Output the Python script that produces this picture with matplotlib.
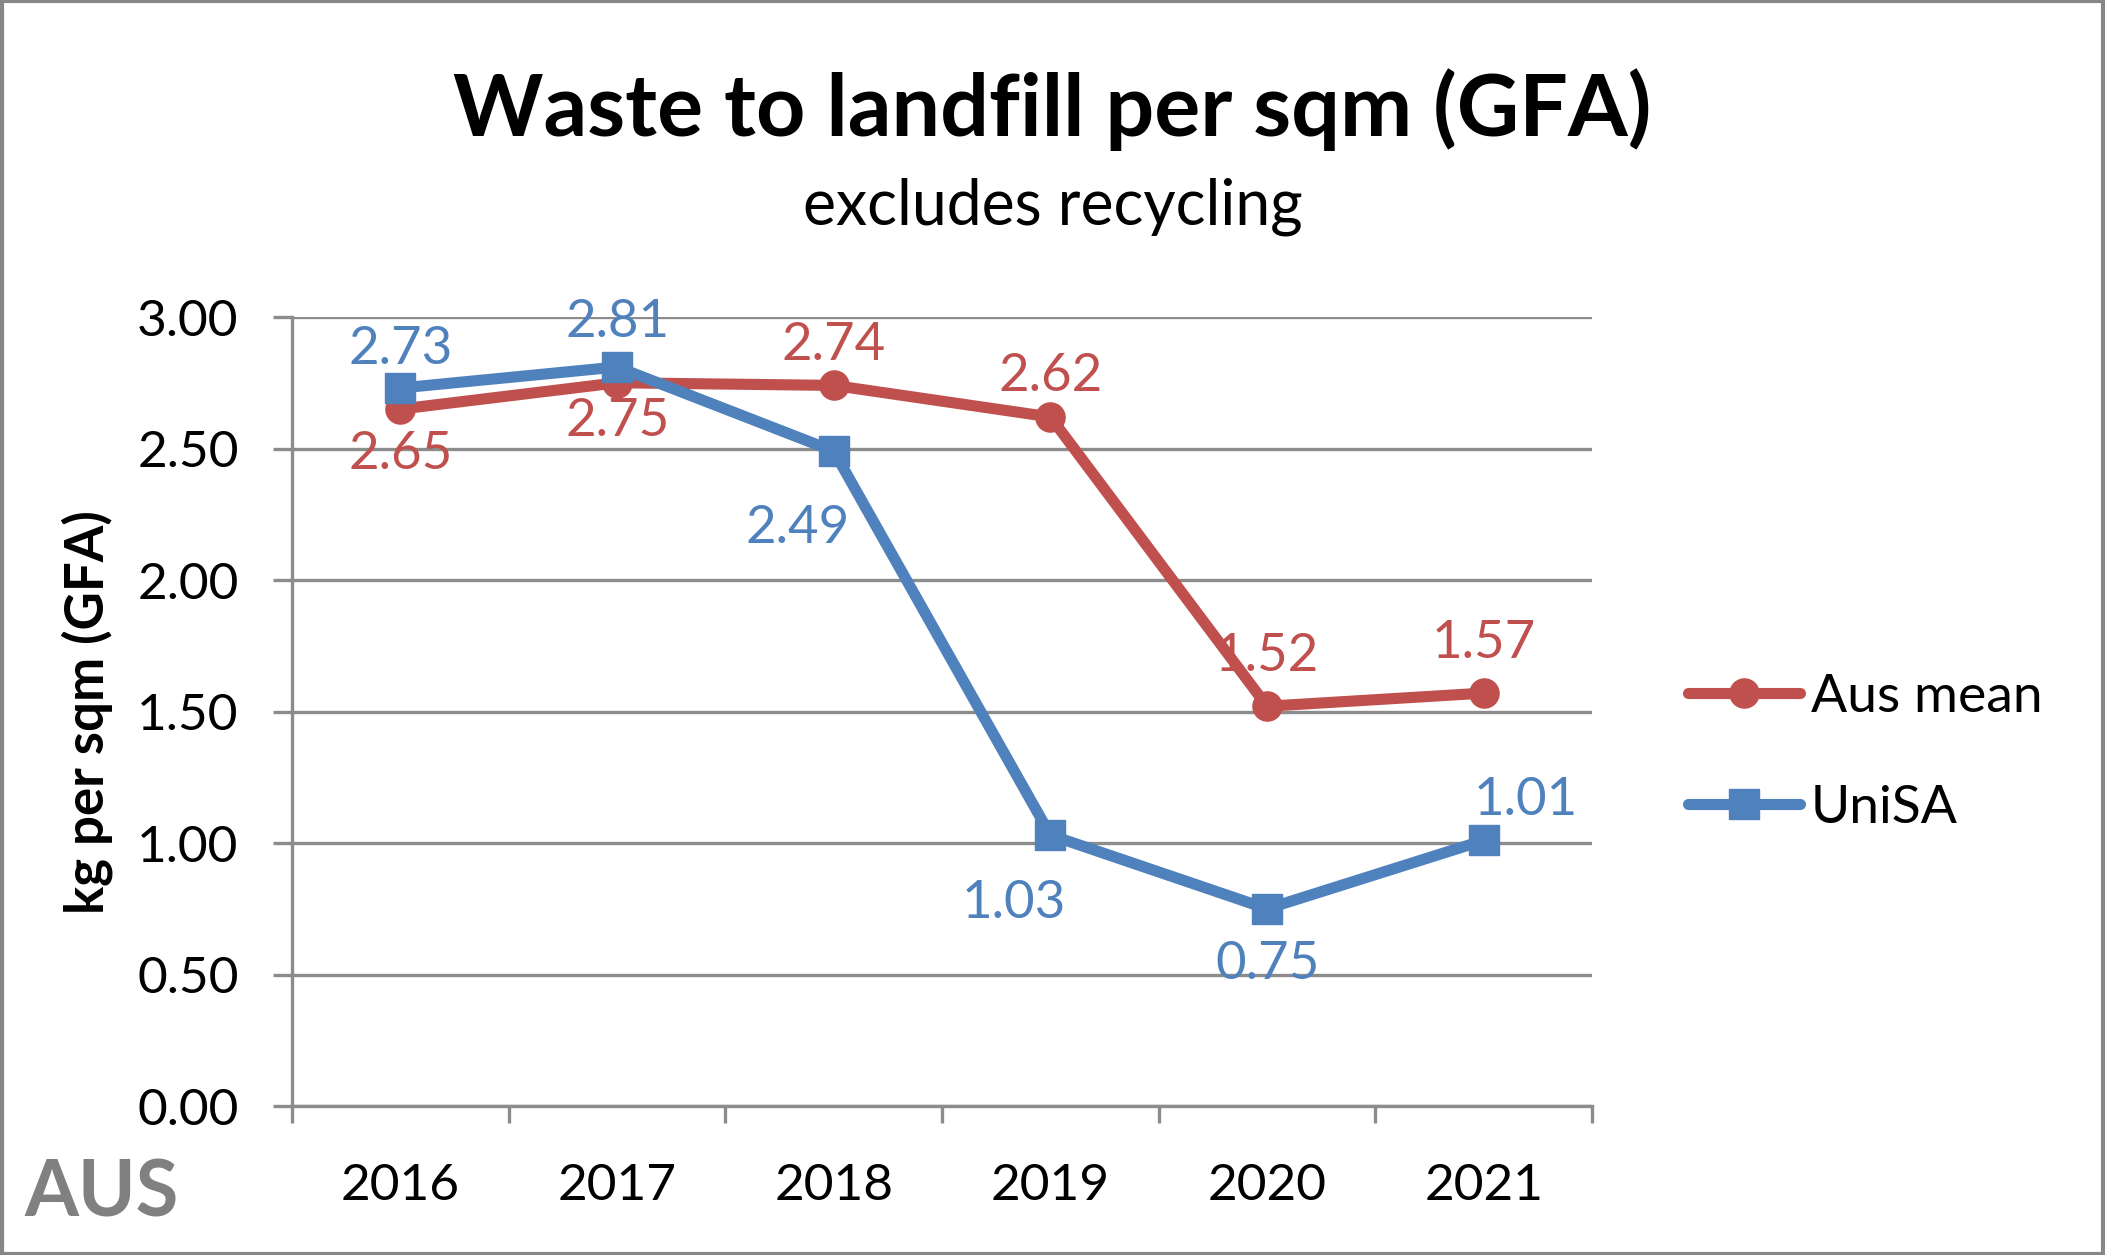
import matplotlib
matplotlib.use('Agg')
import matplotlib.pyplot as plt
from matplotlib.patches import Rectangle

plt.rcParams['font.family'] = ['Lato', 'DejaVu Sans']

# Data
years = ['2016', '2017', '2018', '2019', '2020', '2021']
aus_mean = [2.65, 2.75, 2.74, 2.62, 1.52, 1.57]
unisa = [2.73, 2.81, 2.49, 1.03, 0.75, 1.01]
y_ticks = [0.0, 0.5, 1.0, 1.5, 2.0, 2.5, 3.0]

red = '#C0504D'
blue = '#4F81BD'
grid_grey = '#8C8C8C'

# label offsets in points (dx, dy)
aus_offsets = [(0, -33), (0, -28), (0, 29), (0, 29), (0, 36), (0, 36)]
unisa_offsets = [(0, 28), (0, 32), (-26, -56), (-26, -49), (0, -40), (30, 29)]

fig = plt.figure(figsize=(21.05, 12.55), dpi=100)
ax = fig.add_axes([0.1388, 0.1187, 0.6175, 0.6287])

x = list(range(len(years)))
ax.plot(x, aus_mean, color=red, lw=8, marker='o', ms=21, label='Aus mean',
        solid_capstyle='round', zorder=3)
ax.plot(x, unisa, color=blue, lw=8, marker='s', ms=21, label='UniSA',
        solid_capstyle='round', zorder=4)

for xi, v, off in zip(x, aus_mean, aus_offsets):
    ax.annotate(f'{v:.2f}', (xi, v), xytext=off, textcoords='offset points',
                ha='center', va='center', color=red, fontsize=38, zorder=5)
for xi, v, off in zip(x, unisa, unisa_offsets):
    ax.annotate(f'{v:.2f}', (xi, v), xytext=off, textcoords='offset points',
                ha='center', va='center', color=blue, fontsize=38, zorder=5)

ax.set_xlim(-0.5, len(years) - 0.5)
ax.set_ylim(0, 3.0)
ax.set_yticks(y_ticks)
ax.set_yticklabels([f'{t:.2f}' for t in y_ticks], fontsize=37)
ax.set_xticks(x)
ax.set_xticklabels(years, fontsize=37)
ax.set_xticks([i - 0.5 for i in range(len(years) + 1)], minor=True)
ax.tick_params(axis='x', which='major', length=0, pad=41)
ax.tick_params(axis='x', which='minor', length=12, width=2.4, color=grid_grey)
ax.tick_params(axis='y', length=13.5, width=2.4, color=grid_grey, pad=25)

ax.yaxis.grid(True, color=grid_grey, lw=2.4)
ax.set_axisbelow(True)
for s in ['top', 'right']:
    ax.spines[s].set_visible(False)
for s in ['left', 'bottom']:
    ax.spines[s].set_color(grid_grey)
    ax.spines[s].set_linewidth(2.4)

fig.text(0.5, 0.913, 'Waste to landfill per sqm (GFA)', ha='center', va='center',
         fontsize=62, fontweight='bold')
fig.text(0.5, 0.835, 'excludes recycling', ha='center', va='center', fontsize=45)
fig.text(0.0414, 0.433, 'kg per sqm (GFA)', ha='center', va='center', rotation=90,
         fontsize=38, fontweight='bold')
fig.text(0.0114, 0.048, 'AUS', ha='left', va='center', fontsize=56,
         fontweight='bold', color='#808080')

leg = fig.legend(loc='center left', bbox_to_anchor=(0.779, 0.40), frameon=False,
                 fontsize=38.5, handlelength=2.1, handletextpad=0.2, labelspacing=1.2)
for line in leg.get_lines():
    line.set_solid_capstyle('round')

fig.patches.append(Rectangle((0.001, 0.001), 0.998, 0.998, transform=fig.transFigure,
                             fill=False, edgecolor='#878787', lw=3))

fig.savefig('out.png', dpi=100)
